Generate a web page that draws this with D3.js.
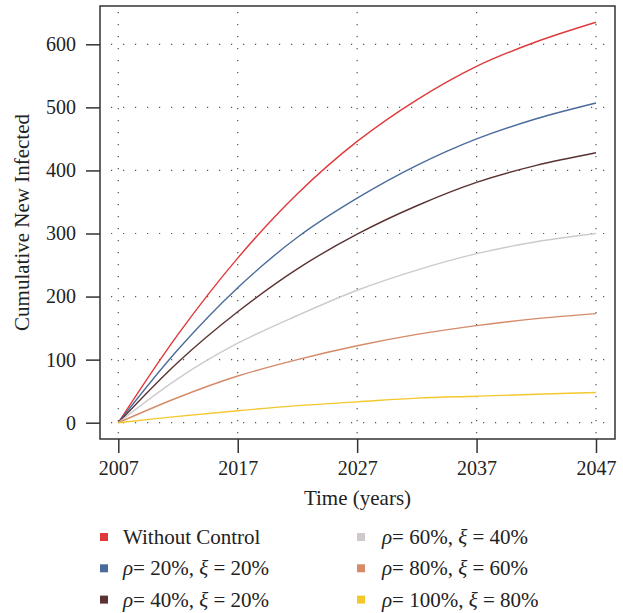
<!DOCTYPE html>
<html>
<head>
<meta charset="utf-8">
<script src="https://cdn.jsdelivr.net/npm/d3@7"></script>
<style>
  body { margin: 0; background: #fff; }
  text { font-family: "Liberation Serif", "DejaVu Serif", serif; fill: #222; }
</style>
</head>
<body>
<svg id="chart" width="623" height="613"></svg>
<script>
var years = [2007, 2012, 2017, 2022, 2027, 2032, 2037, 2042, 2047];

var withoutControl = [0, 140, 261, 363, 446, 512, 565, 604, 635];
var rho20xi20 = [0, 116, 214, 294, 356, 408, 450, 482, 507];
var rho40xi20 = [0, 96, 176, 244, 299, 344, 381, 408, 428];
var rho60xi40 = [0, 70, 126, 170, 210, 242, 268, 287, 300];
var rho80xi60 = [0, 40, 74, 100, 122, 140, 154, 165, 173];
var rho100xi80 = [0, 10, 19, 27, 33, 39, 42, 45, 48];

var xTicks = [2007, 2017, 2027, 2037, 2047];
var yTicks = [0, 100, 200, 300, 400, 500, 600];

var series = [
  { rho: null, xi: null, label: 'Without Control', color: '#e0393b', values: withoutControl },
  { rho: '20%', xi: '20%', color: '#4a6b9b', values: rho20xi20 },
  { rho: '40%', xi: '20%', color: '#5b3232', values: rho40xi20 },
  { rho: '60%', xi: '40%', color: '#cfc9cb', values: rho60xi40 },
  { rho: '80%', xi: '60%', color: '#d58a68', values: rho80xi60 },
  { rho: '100%', xi: '80%', color: '#f3c82c', values: rho100xi80 }
];

var svg = d3.select('#chart');
var box = { left: 100, top: 6, right: 615, bottom: 439 };

var x = d3.scaleLinear().domain([2007, 2047]).range([118.3, 596]);
var y = d3.scaleLinear().domain([0, 600]).range([422.7, 44.3]);

// grid
var grid = svg.append('g').attr('class', 'grid');
grid.selectAll('line.h').data(yTicks).enter().append('line')
  .attr('x1', box.left).attr('x2', box.right)
  .attr('y1', function(d) { return y(d); }).attr('y2', function(d) { return y(d); })
  .attr('stroke', '#555').attr('stroke-width', 1.2)
  .attr('stroke-dasharray', '1.2,10.8').attr('stroke-dashoffset', -11);
grid.selectAll('line.v').data(xTicks).enter().append('line')
  .attr('y1', box.top).attr('y2', box.bottom)
  .attr('x1', function(d) { return x(d); }).attr('x2', function(d) { return x(d); })
  .attr('stroke', '#555').attr('stroke-width', 1.2)
  .attr('stroke-dasharray', '1.2,10.8').attr('stroke-dashoffset', -6);

// lines
var line = d3.line()
  .x(function(d, i) { return x(years[i]); })
  .y(function(d) { return y(d); })
  .curve(d3.curveCatmullRom);

svg.append('g').selectAll('path').data(series).enter().append('path')
  .attr('d', function(s) { return line(s.values); })
  .attr('fill', 'none')
  .attr('stroke', function(s) { return s.color; })
  .attr('stroke-width', 1.4);

// frame
svg.append('rect')
  .attr('x', box.left).attr('y', box.top)
  .attr('width', box.right - box.left).attr('height', box.bottom - box.top)
  .attr('fill', 'none').attr('stroke', '#333').attr('stroke-width', 1.5);

// axes
var yAxis = d3.axisLeft(y).tickValues(yTicks).tickSize(14).tickPadding(10);
var gy = svg.append('g').attr('transform', 'translate(' + box.left + ',0)').call(yAxis);
var xAxis = d3.axisBottom(x).tickValues(xTicks).tickSize(14).tickPadding(8).tickFormat(d3.format('d'));
var gx = svg.append('g').attr('transform', 'translate(0,' + box.bottom + ')').call(xAxis);

[gx, gy].forEach(function(g) {
  g.select('.domain').remove();
  g.selectAll('.tick line').attr('stroke', '#333').attr('stroke-width', 1.5);
  g.selectAll('.tick text').attr('font-size', 20)
    .attr('font-family', '"Liberation Serif", serif').attr('fill', '#222');
});

svg.append('text')
  .attr('x', 357.5).attr('y', 505)
  .attr('text-anchor', 'middle').attr('font-size', 21)
  .text('Time (years)');

svg.append('text')
  .attr('transform', 'translate(29,222.5) rotate(-90)')
  .attr('text-anchor', 'middle').attr('font-size', 21)
  .text('Cumulative New Infected');

// legend
var legend = svg.append('g').selectAll('g').data(series).enter().append('g')
  .attr('transform', function(s, i) {
    var col = Math.floor(i / 3), row = i % 3;
    return 'translate(' + (col === 0 ? 100 : 357) + ',' + (537 + row * 31.3) + ')';
  });

legend.append('rect')
  .attr('x', 0).attr('y', -4).attr('width', 8).attr('height', 8)
  .attr('fill', function(s) { return s.color; });

legend.append('text')
  .attr('x', function(s, i) { return i < 3 ? 23 : 25; })
  .attr('y', 7)
  .attr('font-size', 21)
  .each(function(s) {
    var t = d3.select(this);
    if (!s.rho) { t.text(s.label); return; }
    t.append('tspan').attr('font-style', 'italic').text('\u03C1');
    t.append('tspan').text('= ' + s.rho + ', ');
    t.append('tspan').attr('font-style', 'italic').text('\u03BE');
    t.append('tspan').text(' = ' + s.xi);
  });
</script>
</body>
</html>
